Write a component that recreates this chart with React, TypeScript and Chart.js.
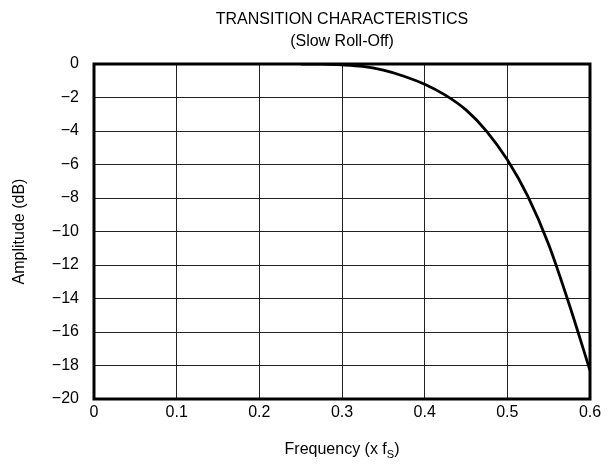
import React, { useEffect, useRef } from "react";
import { Chart, registerables } from "chart.js";

Chart.register(...registerables);

const freq = [0.25, 0.275, 0.3, 0.325, 0.35, 0.375, 0.4, 0.425, 0.45, 0.475, 0.5, 0.525, 0.55, 0.575, 0.6];
const amplitude = [0, -0.01, -0.05, -0.14, -0.37, -0.73, -1.21, -1.86, -2.74, -4.02, -5.72, -7.92, -10.77, -14.37, -18.3];
const titleLines = ["TRANSITION CHARACTERISTICS", "(Slow Roll-Off)"];
const yTitle = "Amplitude (dB)";
const xTitleMain = "Frequency (x f";
const xTitleSub = "S";
const xTitleEnd = ")";

const FONT = "'Liberation Sans', Arial, sans-serif";
const FS = 16;

const annotations = {
  id: "annotations",
  afterDraw(chart: any) {
    const { ctx, chartArea } = chart;
    const { left, right, top, bottom } = chartArea;
    ctx.save();
    ctx.strokeStyle = "#000";
    ctx.lineWidth = 3;
    ctx.strokeRect(left, top, right - left, bottom - top);
    ctx.fillStyle = "#000";
    ctx.textAlign = "center";
    ctx.textBaseline = "middle";
    ctx.font = `${FS}px ${FONT}`;
    const cx = (left + right) / 2;
    ctx.fillText(titleLines[0], cx, 20);
    ctx.fillText(titleLines[1], cx, 42);
    ctx.save();
    ctx.translate(20, (top + bottom) / 2);
    ctx.rotate(-Math.PI / 2);
    ctx.fillText(yTitle, 0, 0);
    ctx.restore();
    const w1 = ctx.measureText(xTitleMain).width;
    ctx.font = `11px ${FONT}`;
    const w2 = ctx.measureText(xTitleSub).width;
    ctx.font = `${FS}px ${FONT}`;
    const w3 = ctx.measureText(xTitleEnd).width;
    let x = cx - (w1 + w2 + w3) / 2;
    const y = 450;
    ctx.textAlign = "left";
    ctx.fillText(xTitleMain, x, y);
    x += w1;
    ctx.font = `11px ${FONT}`;
    ctx.fillText(xTitleSub, x, y + 5);
    x += w2;
    ctx.font = `${FS}px ${FONT}`;
    ctx.fillText(xTitleEnd, x, y);
    ctx.restore();
  },
};

export default function App() {
  const ref = useRef<HTMLCanvasElement>(null);
  useEffect(() => {
    document.body.style.margin = "0";
    const chart = new Chart(ref.current!, {
      type: "line",
      data: {
        datasets: [
          {
            data: freq.map((f, i) => ({ x: f, y: amplitude[i] })),
            borderColor: "#000",
            borderWidth: 2.8,
            pointRadius: 0,
            cubicInterpolationMode: "monotone",
            fill: false,
          },
        ],
      },
      options: {
        animation: false,
        responsive: false,
        maintainAspectRatio: false,
        layout: { padding: { top: 64, right: 22, left: 0, bottom: 0 } },
        plugins: { legend: { display: false }, title: { display: false }, tooltip: { enabled: false } },
        scales: {
          x: {
            type: "linear",
            min: 0,
            max: 0.6,
            afterFit(scale: any) {
              scale.height = 69;
            },
            ticks: {
              stepSize: 0.1,
              color: "#000",
              font: { family: FONT, size: FS },
              padding: 4,
              maxRotation: 0,
              callback: (v: any) => (Math.abs(v) < 1e-9 ? "0" : Number(v).toFixed(1)),
            },
            grid: { color: "#222", lineWidth: 1, drawTicks: false },
            border: { display: false },
          },
          y: {
            type: "linear",
            min: -20,
            max: 0,
            afterFit(scale: any) {
              scale.width = 94;
            },
            ticks: {
              stepSize: 2,
              color: "#000",
              font: { family: FONT, size: FS },
              padding: 15,
              callback: (v: any) => (v < 0 ? "\u2212" + Math.abs(v) : "0"),
            },
            grid: { color: "#222", lineWidth: 1, drawTicks: false },
            border: { display: false },
          },
        },
      },
      plugins: [annotations],
    } as any);
    return () => chart.destroy();
  }, []);
  return (
    <div style={{ width: 612, height: 468 }}>
      <canvas ref={ref} width={612} height={468} style={{ width: 612, height: 468, display: "block" }} />
    </div>
  );
}
